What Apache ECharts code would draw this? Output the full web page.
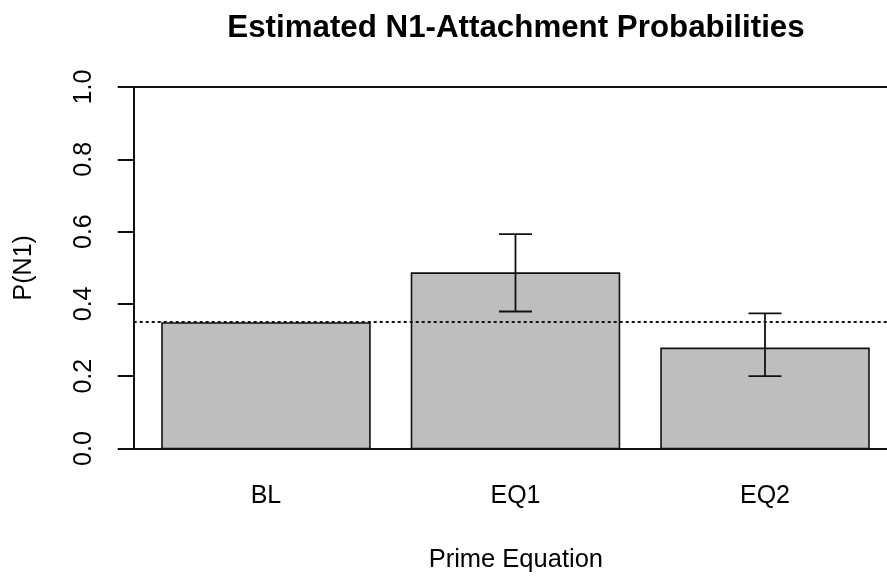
<!DOCTYPE html>
<html>
<head>
<meta charset="utf-8">
<script src="https://cdn.jsdelivr.net/npm/echarts@6/dist/echarts.min.js"></script>
<style>
  html, body { margin: 0; padding: 0; background: #fff; }
  #chart { width: 887px; height: 578px; }
</style>
</head>
<body>
<div id="chart"></div>
<script>
// ---- data ----
const categories = ['BL', 'EQ1', 'EQ2'];
const probs = [0.347, 0.485, 0.277];
const errLow = [null, 0.379, 0.200];
const errHigh = [null, 0.593, 0.374];
const baseline = 0.347;
const yTickLabels = ['0.0', '0.2', '0.4', '0.6', '0.8', '1.0'];

// ---- R barplot layout (width = 1, space = 0.2) ----
const barW = 1, space = 0.2;
const n = categories.length;
const lo = space, hi = n * (barW + space);
const pad = 0.04 * (hi - lo);
const barLeft = i => space + i * (barW + space);
const barCenter = i => barLeft(i) + barW / 2;

// plot region: the R plot region runs past the right edge of the picture
const gridLeft = 133.7, pxPerUnit = 207.94, chartW = 887;
const xMin = lo - pad;
const xMax = xMin + (chartW - gridLeft) / pxPerUnit;

const FONT = 'Liberation Sans, Arial, sans-serif';

const chart = echarts.init(document.getElementById('chart'), null, { renderer: 'canvas' });

const option = {
  animation: false,
  backgroundColor: '#ffffff',
  title: {
    text: 'Estimated N1-Attachment Probabilities',
    left: 516, top: 8, textAlign: 'center',
    textStyle: { fontFamily: FONT, fontWeight: 'bold', fontSize: 31.3, color: '#000' }
  },
  grid: { left: gridLeft, right: 0, top: 87, bottom: 128, containLabel: false },
  xAxis: {
    type: 'value',
    min: xMin, max: xMax,
    axisLine: { show: false },
    axisTick: { show: false },
    splitLine: { show: false },
    axisLabel: {
      customValues: categories.map((c, i) => barCenter(i)),
      formatter: v => categories[Math.round((v - space - barW / 2) / (barW + space))],
      margin: 35,
      fontFamily: FONT, fontSize: 25, color: '#000'
    },
    name: 'Prime Equation',
    nameLocation: 'middle',
    nameGap: 98.5,
    nameTextStyle: { fontFamily: FONT, fontSize: 25.5, color: '#000', padding: [0, 0, 0, 11] }
  },
  yAxis: {
    type: 'value',
    min: 0, max: 1, interval: 0.2,
    axisLine: { show: true, lineStyle: { color: '#111', width: 2 } },
    axisTick: { show: true, inside: false, length: 16, lineStyle: { color: '#111', width: 2 } },
    splitLine: { show: false },
    axisLabel: {
      rotate: 90,
      margin: 37,
      formatter: v => yTickLabels[Math.round(v / 0.2)],
      fontFamily: FONT, fontSize: 25, color: '#000'
    },
    name: 'P(N1)',
    nameLocation: 'middle',
    nameRotate: 90,
    nameGap: 97,
    nameTextStyle: { fontFamily: FONT, fontSize: 25, color: '#000' }
  },
  series: [
    {
      type: 'custom',
      z: 2,
      clip: false,
      renderItem: function (params, api) {
        const i = api.value(0), v = api.value(1);
        const p0 = api.coord([barLeft(i), 0]);
        const p1 = api.coord([barLeft(i) + barW, v]);
        return {
          type: 'rect',
          shape: { x: p0[0], y: p1[1], width: p1[0] - p0[0], height: p0[1] - p1[1] },
          style: { fill: '#bebebe', stroke: '#111', lineWidth: 1.6 }
        };
      },
      data: probs.map((v, i) => [i, v])
    },
    {
      type: 'custom',
      z: 4,
      clip: false,
      renderItem: function (params, api) {
        const i = api.value(0), l = api.value(1), h = api.value(2);
        const top = api.coord([barCenter(i), h]);
        const bot = api.coord([barCenter(i), l]);
        const cap = 16.5;
        const st = { stroke: '#111', lineWidth: 1.8 };
        return {
          type: 'group',
          children: [
            { type: 'line', shape: { x1: top[0], y1: top[1], x2: bot[0], y2: bot[1] }, style: st },
            { type: 'line', shape: { x1: top[0] - cap, y1: top[1], x2: top[0] + cap, y2: top[1] }, style: st },
            { type: 'line', shape: { x1: bot[0] - cap, y1: bot[1], x2: bot[0] + cap, y2: bot[1] }, style: st }
          ]
        };
      },
      data: categories.map((c, i) => [i, errLow[i], errHigh[i]]).filter(d => d[1] != null),
      markLine: {
        silent: true,
        symbol: ['none', 'none'],
        label: { show: false },
        lineStyle: { color: '#111', width: 2, type: 'solid' },
        data: [
          { yAxis: 0 },
          { yAxis: 1 },
          { yAxis: baseline, lineStyle: { type: [3, 3], width: 2, color: '#111' } }
        ]
      }
    }
  ]
};

option.title.left = 511;
chart.setOption(option);
</script>
</body>
</html>
